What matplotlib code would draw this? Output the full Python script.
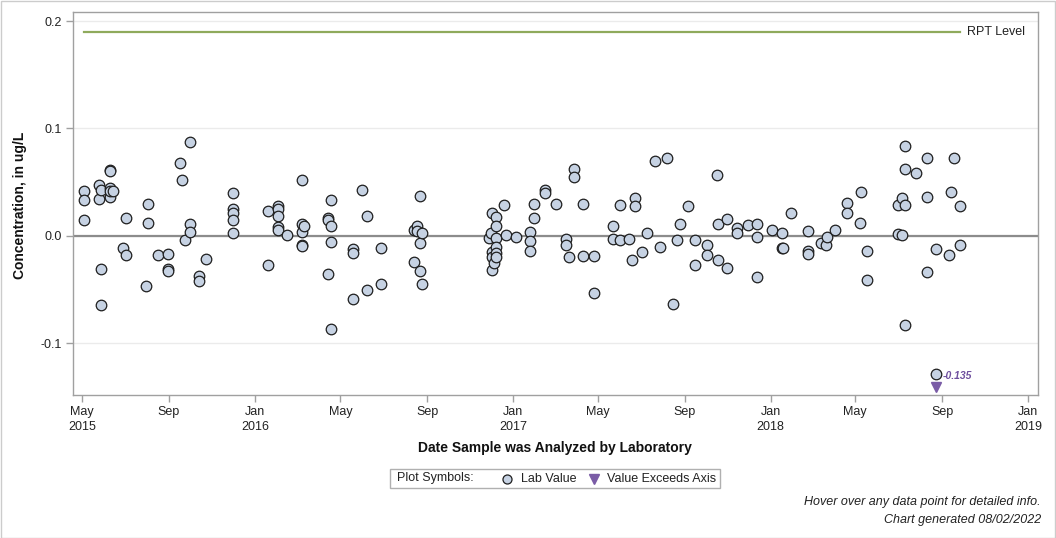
import matplotlib
matplotlib.use("Agg")
import matplotlib.pyplot as plt
import matplotlib.dates as mdates
from matplotlib.lines import Line2D
from matplotlib.patches import Rectangle
import numpy as np

# ---------------- data ----------------
sample_dates = (
    ["2015-05-04"] * 3 + ["2015-05-25"] * 2 + ["2015-05-27"] * 3 + ["2015-06-09"] * 5 +
    ["2015-06-14", "2015-06-28"] + ["2015-07-02"] * 2 + ["2015-07-30"] + ["2015-08-02"] * 2 +
    ["2015-08-16"] + ["2015-08-31"] * 3 + ["2015-09-16", "2015-09-20", "2015-09-24"] +
    ["2015-10-01"] * 3 + ["2015-10-13"] * 2 + ["2015-10-23"] + ["2015-12-01"] * 5 +
    ["2016-01-20"] * 2 + ["2016-02-02"] * 5 + ["2016-02-16"] + ["2016-03-07"] * 5 +
    ["2016-03-10"] + ["2016-04-14"] * 3 + ["2016-04-18"] * 4 + ["2016-05-19"] * 3 +
    ["2016-05-31"] + ["2016-06-08"] * 2 + ["2016-06-28"] * 2 + ["2016-08-13"] * 2 +
    ["2016-08-18"] * 2 + ["2016-08-22"] * 3 + ["2016-08-25"] * 2 +
    ["2016-11-28", "2016-11-30"] + ["2016-12-02"] * 4 + ["2016-12-05"] + ["2016-12-07"] * 6 +
    ["2016-12-19", "2016-12-22", "2017-01-05"] + ["2017-01-25"] * 3 + ["2017-01-31"] * 2 +
    ["2017-02-15"] * 2 + ["2017-03-03"] + ["2017-03-17"] * 2 + ["2017-03-21"] +
    ["2017-03-28"] * 2 + ["2017-04-10"] * 2 + ["2017-04-26"] * 2 + ["2017-05-23"] * 2 +
    ["2017-06-01"] * 2 + ["2017-06-14", "2017-06-19"] + ["2017-06-23"] * 2 +
    ["2017-07-03", "2017-07-10", "2017-07-21", "2017-07-28", "2017-08-07", "2017-08-16",
     "2017-08-21", "2017-08-26", "2017-09-06"] + ["2017-09-16"] * 2 + ["2017-10-03"] * 2 +
    ["2017-10-17"] + ["2017-10-19"] * 2 + ["2017-10-31"] * 2 + ["2017-11-14"] * 2 +
    ["2017-11-30"] + ["2017-12-13"] * 3 + ["2018-01-03"] + ["2018-01-17"] * 2 +
    ["2018-01-19", "2018-01-30"] + ["2018-02-23"] * 3 +
    ["2018-03-13", "2018-03-21", "2018-03-22", "2018-04-02"] + ["2018-04-19"] * 2 +
    ["2018-05-07", "2018-05-09"] + ["2018-05-17"] * 2 + ["2018-06-30"] * 2 +
    ["2018-07-06"] * 2 + ["2018-07-10"] * 4 + ["2018-07-26"] + ["2018-08-10"] * 3 +
    ["2018-08-24"] * 2 + ["2018-09-11", "2018-09-14", "2018-09-18"] + ["2018-09-27"] * 2
)

lab_values = [
    0.042, 0.033, 0.015,
    0.047, 0.034,
    0.043, -0.031, -0.064,
    0.061, 0.060, 0.045, 0.036, 0.042,
    0.042, -0.011,
    -0.018, 0.017,
    -0.047,
    0.030, 0.012,
    -0.018,
    -0.017, -0.031, -0.033,
    0.068, 0.052, -0.004,
    0.087, 0.011, 0.004,
    -0.037, -0.042,
    -0.021,
    0.040, 0.025, 0.021, 0.015, 0.003,
    0.023, -0.027,
    0.028, 0.025, 0.019, 0.008, 0.006,
    0.001,
    0.052, 0.011, 0.004, -0.008, -0.009,
    0.009,
    0.017, 0.015, -0.035,
    0.033, 0.009, -0.006, -0.087,
    -0.012, -0.016, -0.059,
    0.043,
    0.019, -0.050,
    -0.011, -0.045,
    0.006, -0.024,
    0.009, 0.005,
    0.037, -0.007, -0.033,
    0.003, -0.045,
    -0.002, 0.003,
    0.021, -0.015, -0.020, -0.032,
    -0.025,
    0.018, 0.009, -0.002, -0.010, -0.016, -0.020,
    0.029, 0.001, -0.001,
    0.004, -0.005, -0.014,
    0.030, 0.017,
    0.043, 0.040,
    0.030,
    -0.003, -0.008,
    -0.020,
    0.062, 0.055,
    0.030, -0.019,
    -0.019, -0.053,
    0.009, -0.003,
    -0.004, 0.029,
    -0.003, -0.022,
    0.035, 0.028,
    -0.015, 0.003, 0.070, -0.010, 0.073, -0.063,
    -0.004, 0.011, 0.028,
    -0.004, -0.027,
    -0.008, -0.018,
    0.057,
    0.011, -0.022,
    0.016, -0.030,
    0.007, 0.003,
    0.010,
    0.011, -0.001, -0.038,
    0.006,
    0.003, -0.011,
    -0.011, 0.021,
    0.005, -0.014, -0.017,
    -0.007, -0.008, -0.001, 0.006,
    0.031, 0.021,
    0.012, 0.041,
    -0.014, -0.041,
    0.029, 0.002,
    0.035, 0.001,
    0.084, 0.062, 0.029, -0.083,
    0.059,
    0.073, 0.036, -0.034,
    -0.012, -0.128,
    -0.018, 0.041, 0.073,
    0.028, -0.008,
]

exceed_dates = ["2018-08-24"]
exceed_values = [-0.135]
exceed_labels = ["-0.135"]

rpt_level = 0.19
rpt_label = "RPT Level"

y_ticks = [-0.1, 0.0, 0.1, 0.2]
y_ticklabels = ["-0.1", "0.0", "0.1", "0.2"]
x_tick_dates = ["2015-05-01", "2015-09-01", "2016-01-01", "2016-05-01", "2016-09-01",
                "2017-01-01", "2017-05-01", "2017-09-01", "2018-01-01", "2018-05-01",
                "2018-09-01", "2019-01-01"]
x_ticklabels = ["May\n2015", "Sep", "Jan\n2016", "May", "Sep", "Jan\n2017", "May", "Sep",
                "Jan\n2018", "May", "Sep", "Jan\n2019"]
x_limits = ["2015-04-18", "2019-01-15"]
y_limits = [-0.148, 0.2084]

# ---------------- style ----------------
plt.rcParams['font.family'] = ['Liberation Sans', 'DejaVu Sans']
W, H = 1056, 538
fig = plt.figure(figsize=(W / 100, H / 100), dpi=100)
ax = fig.add_axes([73 / W, 1 - 395 / H, (1038 - 73) / W, (395 - 12) / H])

dates = np.array(sample_dates, dtype="datetime64[D]")
vals = np.array(lab_values)
xd = mdates.date2num(dates)

for y in y_ticks:
    ax.axhline(y, color="#ebebeb", lw=1.0, zorder=0)
ax.axhline(0.0, color="#8c8c8c", lw=1.6, zorder=1)

# RPT level line
ax.plot([xd.min(), xd.max()], [rpt_level, rpt_level], color="#8faa5c", lw=1.6, zorder=2)
ax.annotate(rpt_label, xy=(xd.max(), rpt_level), xytext=(5, 0), textcoords="offset points",
            ha="left", va="center", fontsize=9, color="#222222")

ax.plot(xd, vals, linestyle="none", marker="o", markersize=7.6, markerfacecolor="#c6d2e3",
        markeredgecolor="#1e1e1e", markeredgewidth=0.9, zorder=3)

# values exceeding axis
ex_x = mdates.date2num(np.array(exceed_dates, dtype="datetime64[D]"))
ex_pos = y_limits[0] + 0.0075
ax.plot(ex_x, np.full(len(ex_x), ex_pos), linestyle="none", marker="v", markersize=7.5,
        color="#7a5ca6", zorder=3)
for xx, lab in zip(ex_x, exceed_labels):
    ax.annotate(lab, xy=(xx, ex_pos), xytext=(4.5, 8), textcoords="offset points",
                ha="left", va="center", fontsize=7.5, color="#6e4f9e", fontweight="bold",
                fontstyle="italic", zorder=4)

ax.set_xlim(mdates.date2num(np.datetime64(x_limits[0])), mdates.date2num(np.datetime64(x_limits[1])))
ax.set_ylim(*y_limits)
ax.set_yticks(y_ticks)
ax.set_yticklabels(y_ticklabels)
ax.set_xticks(mdates.date2num(np.array(x_tick_dates, dtype="datetime64[D]")))
ax.set_xticklabels(x_ticklabels, linespacing=1.35)
ax.tick_params(axis="both", colors="#a0a0a0", labelcolor="#222222", labelsize=9,
               length=5, width=1)
ax.tick_params(axis="x", pad=3)
ax.tick_params(axis="y", pad=3)
for s in ax.spines.values():
    s.set_color("#a0a0a0")
    s.set_linewidth(1.0)

fig.text(555 / W, 1 - 448 / H, "Date Sample was Analyzed by Laboratory", ha="center",
         va="center", fontsize=10, fontweight="bold", color="#111111")
fig.text(20 / W, 1 - 205 / H, "Concentration, in ug/L", ha="center", va="center",
         rotation=90, fontsize=10, fontweight="bold", color="#111111")

# legend box
fig.add_artist(Rectangle((390 / W, 1 - 488 / H), 330 / W, 19 / H, transform=fig.transFigure,
                         facecolor="white", edgecolor="#b0b0b0", lw=1.0))
ly = 1 - 478.5 / H
fig.text(397 / W, ly, "Plot Symbols:", ha="left", va="center", fontsize=9, color="#222222")
fig.add_artist(Line2D([507 / W], [ly], transform=fig.transFigure, marker="o", markersize=6.5,
                      markerfacecolor="#c6d2e3", markeredgecolor="#1e1e1e",
                      markeredgewidth=0.9, linestyle="none"))
fig.text(521 / W, ly, "Lab Value", ha="left", va="center", fontsize=9, color="#222222")
fig.add_artist(Line2D([594 / W], [ly], transform=fig.transFigure, marker="v", markersize=7,
                      color="#7a5ca6", linestyle="none"))
fig.text(607 / W, ly, "Value Exceeds Axis", ha="left", va="center", fontsize=9, color="#222222")

fig.text(1041 / W, 1 - 502 / H, "Hover over any data point for detailed info.", ha="right",
         va="center", fontsize=9, fontstyle="italic", color="#222222")
fig.text(1041 / W, 1 - 520 / H, "Chart generated 08/02/2022", ha="right",
         va="center", fontsize=9, fontstyle="italic", color="#222222")

fig.add_artist(Rectangle((0.5 / W, 0.5 / H), (W - 1.5) / W, (H - 1.5) / H,
                         transform=fig.transFigure, fill=False, edgecolor="#cccccc", lw=1.0))

assert len(sample_dates) == len(lab_values)
fig.savefig("out.png", dpi=100)
